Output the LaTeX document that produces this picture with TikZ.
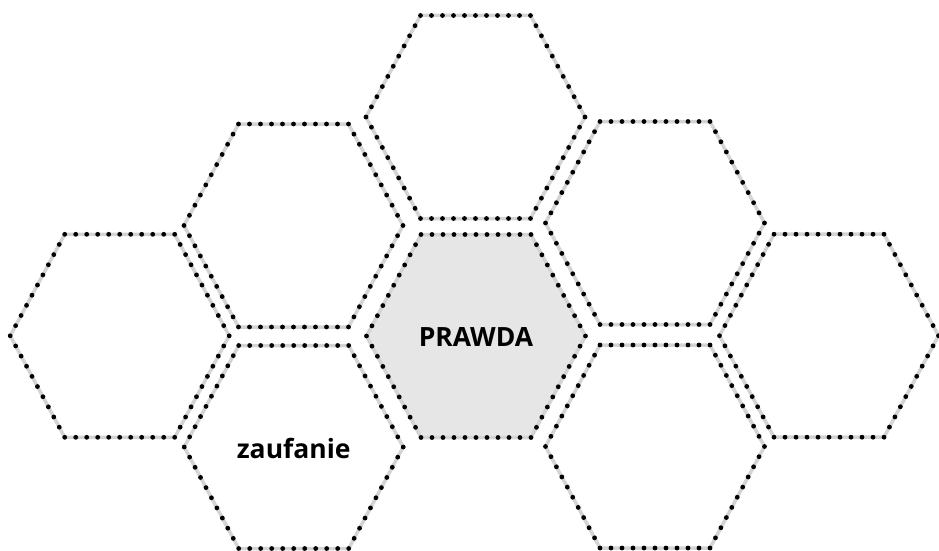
\documentclass[tikz,border=0pt]{standalone}
\usepackage{fontspec}
\setmainfont{Open Sans}
\usetikzlibrary{calc}
\definecolor{bandgray}{HTML}{D4D4D4}
\definecolor{cellgray}{HTML}{E6E6E6}
\tikzset{
  band/.style={draw=bandgray, line width=3.5pt, line join=round},
  dotmark/.style={fill=black},
  label/.style={font=\fontsize{26.5}{30}\selectfont\bfseries, text=black, inner sep=0pt}
}
\newcommand{\hexcell}[4]{% name, cx, cy, fill colour
  \coordinate (#1-1) at (#2+55,#3-101.5);
  \coordinate (#1-2) at (#2+109.5,#3);
  \coordinate (#1-3) at (#2+55,#3+101.5);
  \coordinate (#1-4) at (#2-55,#3+101.5);
  \coordinate (#1-5) at (#2-109.5,#3);
  \coordinate (#1-6) at (#2-55,#3-101.5);
  \path[band, fill=#4] (#1-1) -- (#1-2) -- (#1-3) -- (#1-4) -- (#1-5) -- (#1-6) -- cycle;
  \foreach \a/\b in {1/2,2/3,3/4,4/5,5/6,6/1}{
    \foreach \k in {0,...,9}{
      \fill[dotmark] ($(#1-\a)!\k/10!(#1-\b)$) circle [radius=2.4pt];
    }
  }
}
\begin{document}
\begin{tikzpicture}[x=1pt,y=-1pt]
\useasboundingbox (0,0) rectangle (939,551);
\hexcell{top}{475.5}{117}{white}
\hexcell{mid}{476}{336}{cellgray}
\hexcell{ul}{293.5}{225.5}{white}
\hexcell{lft}{119.7}{335.8}{white}
\hexcell{ll}{293.7}{447}{white}
\hexcell{ur}{655}{223}{white}
\hexcell{lr}{655}{446.5}{white}
\hexcell{rgt}{829}{335.7}{white}
\node[label] (prawda) at (476,337) {PRAWDA};
\node[label] (zaufanie) at (293.7,448) {zaufanie};
\end{tikzpicture}
\end{document}
